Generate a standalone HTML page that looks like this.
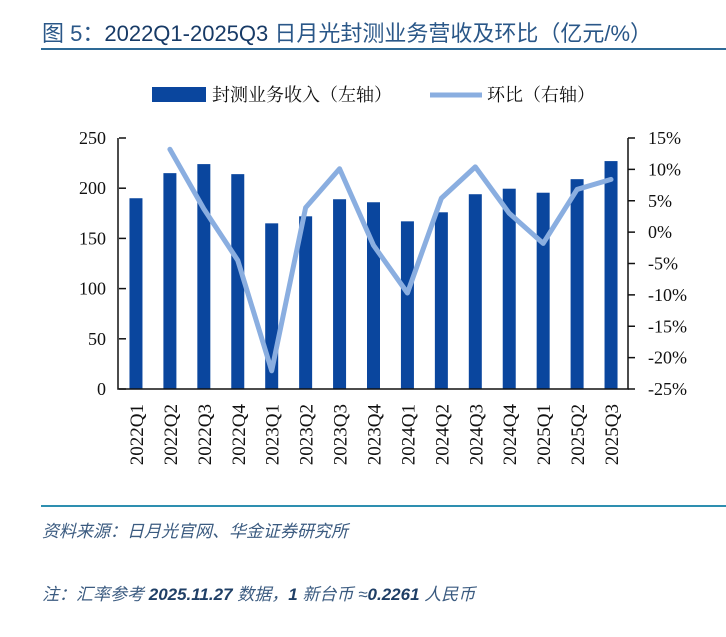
<!DOCTYPE html>
<html><head><meta charset="utf-8"><style>
body{margin:0;background:#fff;width:726px;height:637px;overflow:hidden;position:relative;font-family:"Liberation Sans","Noto Sans CJK SC",sans-serif}
.t{position:absolute;white-space:nowrap}
</style></head><body>
<div class="t" style="left:42px;top:16px;font-size:22px;color:#2a5788;">图 5：<span style="color:#173a66">2022Q1-2025Q3</span> 日月光封测业务营收及环比（亿元/%）</div>
<div style="position:absolute;left:41px;top:48px;width:685px;height:2px;background:#2e6a96"></div>
<svg id="c" width="726" height="637" style="position:absolute;left:0;top:0" font-family="'Liberation Serif','Noto Serif CJK SC',serif"></svg>
<div style="position:absolute;left:41px;top:505px;width:685px;height:1.5px;background:#2e8fb0"></div>
<div class="t" style="left:42px;top:517px;font-size:17px;color:#3b5b80;font-style:italic">资料来源：日月光官网、华金证券研究所</div>
<div class="t" style="left:42px;top:580px;font-size:17px;color:#3b5b80;font-style:italic">注：汇率参考 <b style="color:#1f3f66">2025.11.27</b> 数据，<b style="color:#1f3f66">1</b> 新台币 ≈<b style="color:#1f3f66">0.2261</b> 人民币</div>
<script>
const categories=["2022Q1","2022Q2","2022Q3","2022Q4","2023Q1","2023Q2","2023Q3","2023Q4","2024Q1","2024Q2","2024Q3","2024Q4","2025Q1","2025Q2","2025Q3"];
const revenue=[190,215,224,214,165,172,189,186,167,176,194,199.5,195.5,209,227];
const qoq=[null,13.2,3.7,-4.5,-22.1,3.9,10.1,-2.1,-9.7,5.4,10.4,3.0,-1.8,6.8,8.4];
const leftTicks=[0,50,100,150,200,250];
const rightTicks=[15,10,5,0,-5,-10,-15,-20,-25];
const NS="http://www.w3.org/2000/svg",svg=document.getElementById('c');
const L=119,R=628,T=138,B=389;
const yL=v=>B-(v/250)*(B-T);
const yR=v=>B-((v+25)/40)*(B-T);
const bw=(R-L)/categories.length;
const xC=i=>L+bw*(i+0.5);
function mk(tag,a){const e=document.createElementNS(NS,tag);for(const k in a)e.setAttribute(k,a[k]);svg.appendChild(e);return e;}
categories.forEach((c,i)=>{
 const r=mk('rect',{x:xC(i)-6.5,y:yL(revenue[i]),width:13,height:B-yL(revenue[i]),fill:'#0a469e'});
 
 
 const t=mk('text',{x:0,y:0,'font-size':19,'text-anchor':'end',transform:`translate(${xC(i)+7},${404}) rotate(-90)`,fill:'#111'});
 t.textContent=c;
 
 
});
let a=mk('path',{d:`M${L-1},${T}V${B}H${R}V${T}`,stroke:'#111','stroke-width':1.5,fill:'none'});


leftTicks.forEach(v=>{
 mk('line',{x1:L,x2:L+7,y1:yL(v),y2:yL(v),stroke:'#111','stroke-width':1.5});
 const t=mk('text',{x:106,y:yL(v)+6,'font-size':18,'text-anchor':'end',fill:'#111'});t.textContent=v;
 
 
});
rightTicks.forEach(v=>{
 mk('line',{x1:R,x2:R+7,y1:yR(v),y2:yR(v),stroke:'#111','stroke-width':1.5});
 const t=mk('text',{x:648,y:yR(v)+6,'font-size':18,fill:'#111'});t.textContent=v+'%';
 
 
});
let d='';qoq.forEach((v,i)=>{if(v===null)return;d+=(d?'L':'M')+xC(i)+','+yR(v);});
const ln=mk('path',{d:d,stroke:'#8aaee0','stroke-width':5,fill:'none','stroke-linejoin':'round','stroke-linecap':'round'});


const lg=mk('rect',{x:152,y:87,width:54,height:15,fill:'#0a469e'});


const lt=mk('text',{x:212,y:101,'font-size':18,fill:'#111'});lt.textContent='封测业务收入（左轴）';


const ll=mk('line',{x1:430,x2:482,y1:95,y2:95,stroke:'#8aaee0','stroke-width':5});


const lt2=mk('text',{x:487,y:101,'font-size':18,fill:'#111'});lt2.textContent='环比（右轴）';


</script>
</body></html>
